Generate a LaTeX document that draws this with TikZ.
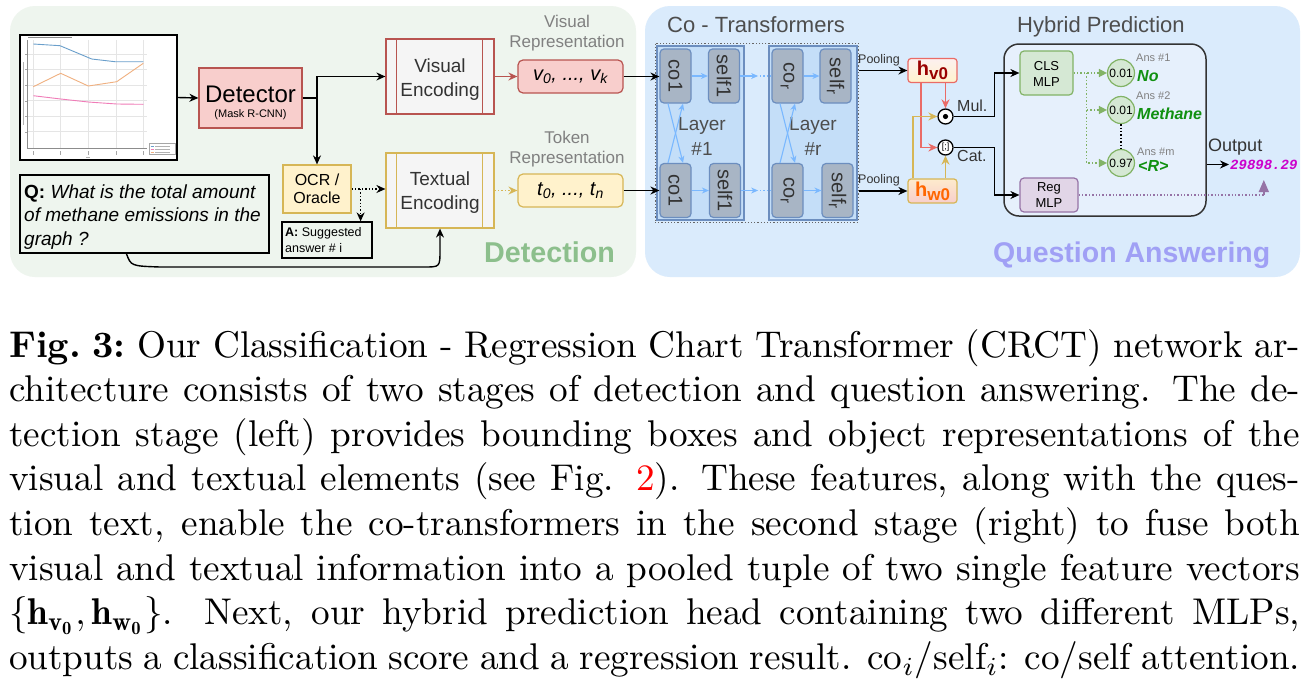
\documentclass[tikz,border=0pt]{standalone}
\usepackage{fontspec}
\usepackage{graphicx}
\usetikzlibrary{arrows.meta,calc}
\newfontfamily\hv{Liberation Sans}
\newfontfamily\hvmono{Liberation Mono}
\newcommand\fsz[2]{\fontsize{#1pt}{#2pt}\selectfont}
\newcommand\ml[2]{\parbox[t]{#1}{\centering #2}}
\definecolor{detbg}{HTML}{EEF5EE}
\definecolor{qabg}{HTML}{DAEBFC}
\definecolor{redf}{HTML}{F8CECC}
\definecolor{reds}{HTML}{B85450}
\definecolor{yelf}{HTML}{FFF2CC}
\definecolor{yels}{HTML}{D6B656}
\definecolor{grayf}{HTML}{F5F5F5}
\definecolor{layf}{HTML}{C4DEF8}
\definecolor{blus}{HTML}{6C8EBF}
\definecolor{cof}{HTML}{A8B5C5}
\definecolor{lblue}{HTML}{7AB8FF}
\definecolor{hred}{HTML}{EA6B66}
\definecolor{grnf}{HTML}{D5E8D4}
\definecolor{grns}{HTML}{82B366}
\definecolor{purf}{HTML}{E1D5E7}
\definecolor{purs}{HTML}{9673A6}
\definecolor{hybf}{HTML}{E6F0FC}
\definecolor{hybs}{HTML}{333333}
\definecolor{dettxt}{HTML}{8CBF8C}
\definecolor{qatxt}{HTML}{A0A0F5}
\definecolor{ansg}{HTML}{109010}
\definecolor{mag}{HTML}{CC00CC}
\definecolor{dtxt}{HTML}{333333}
\definecolor{gtxt}{HTML}{808080}
\definecolor{ttxt}{HTML}{4D4D4D}
\definecolor{hvtxt}{HTML}{990000}
\definecolor{hwtxt}{HTML}{FF6600}
\definecolor{chblue}{HTML}{6A9FCB}
\definecolor{chorange}{HTML}{F0B080}
\definecolor{chpink}{HTML}{F07CB8}
\tikzset{
  arr/.style={-{Stealth[length=9pt,width=8pt]}, line width=1.4pt, draw=black},
  darr/.style={arr, dotted},
  rarr/.style={-{Stealth[length=9pt,width=8pt]}, line width=1.4pt, draw=hred},
  redarr/.style={-{Stealth[length=9pt,width=8pt]}, line width=1.4pt, draw=reds},
  yarr/.style={-{Stealth[length=9pt,width=8pt]}, line width=1.4pt, draw=yels},
  larr/.style={-{Stealth[length=7pt,width=6pt]}, line width=1.1pt, draw=lblue},
  garr/.style={-{Triangle[length=8pt,width=8pt]}, dotted, line width=1.4pt, draw=grns},
  parr/.style={-{Triangle[length=12pt,width=10pt]}, line width=1.4pt, draw=purs},
  box/.style={inner sep=0pt, line width=1.2pt},
  coblk/.style={box, draw=blus, fill=cof, rounded corners=4pt, minimum width=31pt, minimum height=54pt, font=\hv\fsz{20}{20}, text=dtxt},
  lbl/.style={inner sep=0pt},
}
\begin{document}
\begin{tikzpicture}[x=1pt,y=-1pt,font=\hv]
\useasboundingbox (0,0) rectangle (1313,681);
\fill[white] (0,0) rectangle (1313,681);
% panels
\fill[detbg, rounded corners=25pt] (10,6) rectangle (636,277);
\fill[qabg, rounded corners=25pt] (645,6) rectangle (1300,277);

% ---------- chart thumbnail
\node[box, draw=black, line width=1.4pt, fill=white, minimum width=157pt, minimum height=125pt] (chart) at (98.5,97.5) {};
\foreach \x in {33.3,60.7,88.3,116.7,143.3} \draw[black!10, line width=0.5pt] (\x,40) -- (\x,148);
\foreach \y in {54,69.3,85,100.7,116,131.7} \draw[black!10, line width=0.5pt] (27.7,\y) -- (147,\y);
\foreach \y in {54,69.3,85,100.7,116,131.7} \draw[black!35, line width=0.4pt] (25,\y) -- (27.7,\y);
\draw[black!45, line width=0.5pt] (27.7,40) -- (27.7,148) -- (147,148);
\foreach \x in {33.3,60.7,88.3,116.7,143.3} \draw[black!35, line width=0.6pt] (\x,151) -- (\x,155);
\draw[black!30, line width=0.5pt] (23,62) -- (23,125);
\draw[black!30, line width=0.5pt] (86,157) -- (90,157);
\draw[black!45, line width=0.6pt] (28,37.5) -- (72,37.5);
\draw[chblue, line width=0.9pt] (33.3,44) -- (60,45.7) -- (91.7,59) -- (115,61.7) -- (143.3,61.7);
\draw[chorange, line width=0.9pt] (33.3,86.7) -- (60.7,73.3) -- (88.3,86) -- (116.7,81.7) -- (143.3,63.3);
\draw[chpink, line width=0.9pt] (33.3,95.7) -- (60.7,99) -- (88.3,102) -- (116.7,104) -- (143.3,104.3);
\draw[black!35, fill=white, line width=0.4pt] (149.3,143.3) rectangle (175,154);
\draw[chblue, line width=0.5pt] (150.5,146) -- (153.5,146);
\draw[chpink, line width=0.5pt] (150.5,149) -- (153.5,149);
\draw[chorange, line width=0.5pt] (150.5,152) -- (153.5,152);
\foreach \y in {146,149,152} \draw[black!30, line width=0.4pt] (155,\y) -- (170,\y);

% ---------- detection stage
\node[box, draw=reds, fill=redf, minimum width=103pt, minimum height=60pt] (det) at (250.5,98) {};
\node[lbl, anchor=base, font=\hv\fsz{24}{24}] (detT) at (250.5,102) {Detector};
\node[lbl, anchor=base, font=\hv\fsz{11}{11}] (detS) at (250.5,117.5) {(Mask R-CNN)};

\node[box, draw=reds, fill=grayf, minimum width=108pt, minimum height=75pt] (VE) at (440,76.5) {};
\draw[reds, line width=1.2pt] ($(VE.north west)+(11,0)$) -- ($(VE.south west)+(11,0)$);
\draw[reds, line width=1.2pt] ($(VE.north east)+(-12,0)$) -- ($(VE.south east)+(-12,0)$);
\node[lbl, anchor=base, font=\hv\fsz{19}{24}, text=dtxt] (VET) at (440,72) {\ml{100pt}{Visual\\Encoding}};

\node[box, draw=yels, fill=grayf, minimum width=108pt, minimum height=75pt] (TE) at (440,190.5) {};
\draw[yels, line width=1.2pt] ($(TE.north west)+(11,0)$) -- ($(TE.south west)+(11,0)$);
\draw[yels, line width=1.2pt] ($(TE.north east)+(-12,0)$) -- ($(TE.south east)+(-12,0)$);
\node[lbl, anchor=base, font=\hv\fsz{19}{24}, text=dtxt] (TET) at (440,185.5) {\ml{100pt}{Textual\\Encoding}};

\node[box, draw=reds, fill=redf, rounded corners=5pt, minimum width=105pt, minimum height=33pt, font=\hv\itshape\fsz{20}{20}] (v) at (570.5,76.5) {v\textsubscript{0}, ..., v\textsubscript{k}};
\node[box, draw=yels, fill=yelf, rounded corners=5pt, minimum width=105pt, minimum height=33pt, font=\hv\itshape\fsz{20}{20}] (t) at (570.5,190.5) {t\textsubscript{0}, ..., t\textsubscript{n}};
\node[lbl, anchor=base, font=\hv\fsz{17}{20}, text=gtxt] (vrep) at (567,27) {\ml{130pt}{Visual\\Representation}};
\node[lbl, anchor=base, font=\hv\fsz{17}{20}, text=gtxt] (trep) at (567,143) {\ml{130pt}{Token\\Representation}};

\node[box, draw=yels, fill=yelf, minimum width=68pt, minimum height=48pt, align=center, font=\hv\fsz{16}{18}] (ocr) at (317,189) {OCR /\\Oracle};
\node[box, draw=black, minimum width=90pt, minimum height=36pt] (A) at (327,240) {};
\node[lbl, anchor=base west, font=\hv\fsz{12.5}{16}] (AT) at (285,236) {\parbox[t]{86pt}{\raggedright\textbf{A:} Suggested\\answer \# i}};

\node[box, draw=black, minimum width=249pt, minimum height=78pt] (Q) at (144.5,214) {};
\node[lbl, anchor=base west, font=\hv\fsz{19}{23.5}] (QT) at (24,198) {\parbox[t]{250pt}{\raggedright\textbf{Q:} \textit{What is the total amount}\\\textit{of methane emissions in the}\\\textit{graph ?}}};

\node[lbl, anchor=base, font=\hv\bfseries\fsz{28.7}{28.7}, text=dettxt] (detlab) at (549.6,262) {Detection};

% detection connectors
\coordinate (j) at (317,98);
\draw[arr] (chart.east) -- (det.west);
\draw[arr] (det.east) -- (j) |- (VE.west);
\draw[arr] (j) -- (ocr.north);
\draw[darr] (ocr.east) -- (ocr.east -| TE.west);
\coordinate (k) at ($(ocr.east)+(9,0)$);
\draw[darr] (k) -- (k |- A.north);
\draw[redarr] (VE.east) -- (v.west);
\draw[yarr, dotted] (TE.east) -- (t.west);
\coordinate (qs) at ($(Q.south west)+(107,0)$);
\coordinate (qb) at (160,267);
\coordinate (tb) at (424,267);
\draw[arr] (qs) .. controls (131,266) .. (qb) -- (tb) .. controls (440,267) .. (440,250) -- (TE.south);

% ---------- co-transformers
\node[lbl, anchor=base west, font=\hv\fsz{22}{22}, text=ttxt] (cotitle) at (667,32) {Co - Transformers};
\node[box, draw=blus, fill=layf, minimum width=87pt, minimum height=174pt] (L1) at (700.5,133) {};
\node[box, draw=blus, fill=layf, minimum width=88pt, minimum height=174pt] (Lr) at (813,133) {};
\node[box, draw=black!60, dotted, line width=1pt, minimum width=203pt, minimum height=179pt] (ct) at (756.5,132.5) {};
\node[lbl, anchor=base, font=\hv\fsz{19}{25}, text=ttxt] (L1T) at (702,130) {\ml{60pt}{Layer\\\#1}};
\node[lbl, anchor=base, font=\hv\fsz{19}{25}, text=ttxt] (LrT) at (813,130) {\ml{60pt}{Layer\\\#r}};

\node[coblk] (co1t) at (675.5,76) {\rotatebox{-90}{co1}};
\node[coblk] (s1t) at (724,76) {\rotatebox{-90}{self1}};
\node[coblk] (co1b) at (675.5,190.5) {\rotatebox{-90}{co1}};
\node[coblk] (s1b) at (725,190.5) {\rotatebox{-90}{self1}};
\node[coblk] (cort) at (787.5,76) {\rotatebox{-90}{co\raisebox{-3pt}{\fsz{15}{15}r}}};
\node[coblk] (srt) at (835.5,76) {\rotatebox{-90}{self\raisebox{-3pt}{\fsz{15}{15}r}}};
\node[coblk] (corb) at (787.5,190.5) {\rotatebox{-90}{co\raisebox{-3pt}{\fsz{15}{15}r}}};
\node[coblk] (srb) at (837.5,190.5) {\rotatebox{-90}{self\raisebox{-3pt}{\fsz{15}{15}r}}};

\draw[larr] (co1t.east) -- (s1t.west);
\draw[larr] (co1b.east) -- (s1b.west);
\draw[larr] (cort.east) -- (srt.west);
\draw[larr] (corb.east) -- (srb.west);
\draw[larr] ($(co1t.south)+(-7.5,0)$) -- ($(co1b.north)+(7.5,0)$);
\draw[larr] ($(co1b.north)+(-7.5,0)$) -- ($(co1t.south)+(7.5,0)$);
\draw[larr] ($(cort.south)+(-7.5,0)$) -- ($(corb.north)+(7.5,0)$);
\draw[larr] ($(corb.north)+(-7.5,0)$) -- ($(cort.south)+(7.5,0)$);
\draw[larr] (s1t.east) -- ++(18,0);
\draw[lblue, dotted, line width=1.3pt] ($(s1t.east)+(20,0)$) -- (cort.west);
\draw[larr] (s1b.east) -- ++(17,0);
\draw[lblue, dotted, line width=1.3pt] ($(s1b.east)+(19,0)$) -- (corb.west);

\draw[arr] (v.east) -- (v.east -| co1t.west);
\draw[arr] (t.east) -- (t.east -| co1b.west);

% pooled vectors
\node[box, draw=hred, top color=white!70!redf, bottom color=yelf, rounded corners=3pt, minimum width=49pt, minimum height=24pt, font=\hv\bfseries\fsz{20}{20}, text=hvtxt] (hv0) at (932.5,70.5) {h\raisebox{-4pt}{\fsz{17}{17}v0}};
\node[box, draw=yels, top color=yelf!80!redf, bottom color=redf, rounded corners=3pt, minimum width=49pt, minimum height=24pt, font=\hv\bfseries\fsz{20}{20}, text=hwtxt] (hw0) at (932.5,191) {h\raisebox{-4pt}{\fsz{17}{17}w0}};
\draw[arr] (ct.east |- hv0.west) -- (hv0.west);
\draw[arr] (ct.east |- hw0.west) -- (hw0.west);
\node[lbl, anchor=base, font=\hv\fsz{12.5}{12.5}, text=dtxt] (pool1) at (879,63) {Pooling};
\node[lbl, anchor=base, font=\hv\fsz{12.5}{12.5}, text=dtxt] (pool2) at (879,183) {Pooling};

\node[circle, draw=black, fill=white, line width=1.3pt, minimum size=15pt, inner sep=0pt] (mul) at (945.5,116.5) {};
\fill[black] (mul.center) circle (2.6pt);
\node[circle, draw=black, fill=white, line width=1.3pt, minimum size=15pt, inner sep=0pt, font=\hv\fsz{9}{9}] (cat) at (945.5,147.5) {[;]};
\node[lbl, anchor=base west, font=\hv\fsz{16}{16}, text=dtxt] (mulT) at (957,111.5) {Mul.};
\node[lbl, anchor=base west, font=\hv\fsz{16}{16}, text=dtxt] (catT) at (957,161) {Cat.};

\draw[rarr] (mul.north |- hv0.south) -- (mul.north);
\draw[rarr] ($(hv0.south)+(-11.5,0)$) |- (cat.west);
\draw[yarr] ($(hw0.north)+(-19.5,0)$) |- (mul.west);
\draw[yarr] (cat.south |- hw0.north) -- (cat.south);

% ---------- hybrid prediction
\node[lbl, anchor=base west, font=\hv\fsz{22}{22}, text=ttxt] (hytitle) at (1017,32.5) {Hybrid Prediction};
\node[box, draw=hybs, fill=hybf, line width=1.5pt, rounded corners=15pt, minimum width=202pt, minimum height=172pt] (hyb) at (1105,130) {};
\node[box, draw=grns, fill=grnf, rounded corners=4pt, minimum width=53pt, minimum height=44pt] (cls) at (1046.5,73) {};
\node[lbl, anchor=base, font=\hv\fsz{13}{16}] (clsT) at (1046.5,70) {\ml{50pt}{CLS\\MLP}};
\node[box, draw=purs, fill=purf, rounded corners=4pt, minimum width=58pt, minimum height=34pt] (reg) at (1049,195) {};
\node[lbl, anchor=base, font=\hv\fsz{13}{15.5}] (regT) at (1049,191.5) {\ml{50pt}{Reg\\MLP}};

\draw[arr] (mul.east) -- ($(mul.east)+(41,0)$) |- (cls.west);
\draw[arr] (cat.east) -- ($(cat.east)+(41,0)$) |- (reg.west);

\node[circle, draw=grns, fill=grnf, line width=1.2pt, minimum size=27pt, inner sep=0pt, font=\hv\fsz{12}{12}] (c1) at (1121,73) {0.01};
\node[circle, draw=grns, fill=grnf, line width=1.2pt, minimum size=27pt, inner sep=0pt, font=\hv\fsz{12}{12}] (c2) at (1121,110) {0.01};
\node[circle, draw=grns, fill=grnf, line width=1.2pt, minimum size=27pt, inner sep=0pt, font=\hv\fsz{12}{12}] (c3) at (1121,163) {0.97};
\draw[garr] (cls.east) -- (c1.west);
\draw[garr] ($(cls.east)+(13,0)$) |- (c2.west);
\draw[garr] ($(cls.east)+(13,0)$) |- (c3.west);
\draw[black, dotted, line width=1.4pt] (c2.south) -- (c3.north);

\node[lbl, anchor=base west, font=\hv\fsz{11}{11}, text=gtxt] (a1) at (1136,61.5) {Ans \#1};
\node[lbl, anchor=base west, font=\hv\fsz{11}{11}, text=gtxt] (a2) at (1136,99) {Ans \#2};
\node[lbl, anchor=base west, font=\hv\fsz{11}{11}, text=gtxt] (a3) at (1137,155) {Ans \#m};
\node[lbl, anchor=base west, font=\hv\bfseries\itshape\fsz{16}{16}, text=ansg] (n1) at (1137,81) {No};
\node[lbl, anchor=base west, font=\hv\bfseries\itshape\fsz{16}{16}, text=ansg] (n2) at (1137,119.5) {Methane};
\node[lbl, anchor=base west, font=\hv\bfseries\itshape\fsz{16}{16}, text=ansg] (n3) at (1138,171.5) {<R>};

\node[lbl, anchor=base west, font=\hv\fsz{18}{18}, text=dtxt] (outT) at (1208,151.5) {Output};
\node[anchor=west, inner sep=1pt, font=\hvmono\bfseries\itshape\fsz{14}{14}, text=mag] (res) at (1229,164.5) {29898.29};
\draw[arr] (res.west -| hyb.east) -- (res.west);
\draw[purs, dotted, line width=1.4pt] (reg.east) -- (reg.east -| res);
\draw[parr] (reg.east -| res) -- ++(0,-15);

\node[lbl, anchor=base west, font=\hv\bfseries\fsz{28.5}{28.5}, text=qatxt] (qalab) at (993,262) {Question Answering};

% ---------- caption
\node[lbl, anchor=base west] (cap) at (9,357) {\scalebox{3.72}{\parbox[t]{347pt}{\rmfamily\fontsize{10pt}{12pt}\selectfont
\makebox[\linewidth][s]{\textbf{\mbox{Fig.\hspace{0.3em}3:}} Our Classification - Regression Chart Transformer (CRCT) network ar-}\par
\makebox[\linewidth][s]{chitecture consists of two stages of detection and question answering. The de-}\par
\makebox[\linewidth][s]{tection stage (left) provides bounding boxes and object representations of the}\par
\makebox[\linewidth][s]{visual and textual elements (see Fig. \textcolor{red}{2}). These features, along with the ques-}\par
\makebox[\linewidth][s]{tion text, enable the co-transformers in the second stage (right) to fuse both}\par
\makebox[\linewidth][s]{visual and textual information into a pooled tuple of two single feature vectors}\par
\makebox[\linewidth][s]{$\{\mathbf{h}_{\mathbf{v_0}},\mathbf{h}_{\mathbf{w_0}}\}$. Next, our hybrid prediction head containing two different MLPs,}\par
\makebox[\linewidth][s]{outputs a classification score and a regression result. co$_i$/self$_i$: co/self attention.}}}};
\end{tikzpicture}
\end{document}
